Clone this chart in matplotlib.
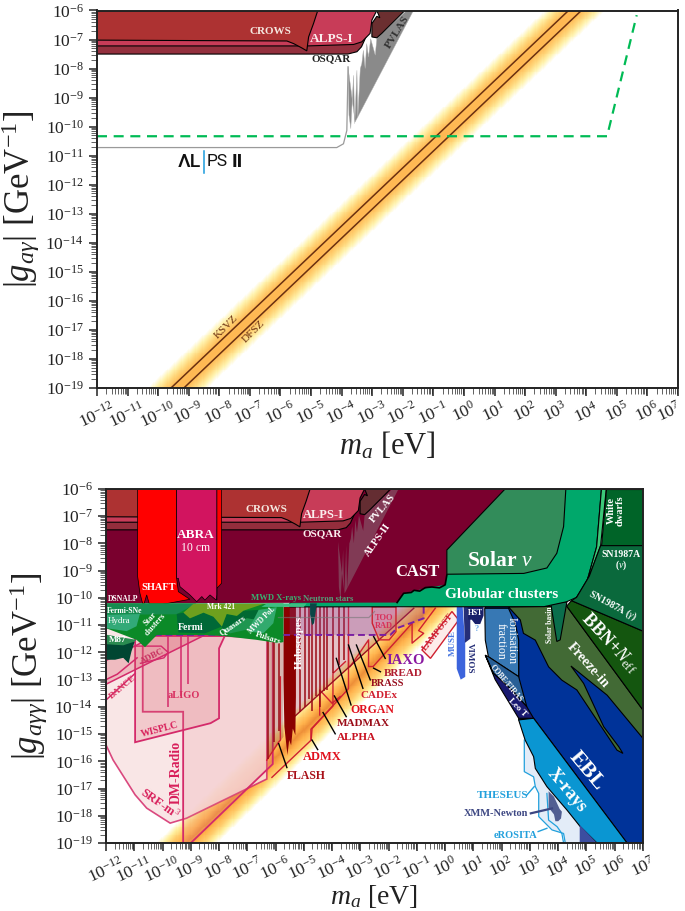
import matplotlib
matplotlib.use('Agg')
import matplotlib.pyplot as plt
from matplotlib.colors import LinearSegmentedColormap
from matplotlib.ticker import LogLocator, NullFormatter
from matplotlib.transforms import ScaledTranslation
import numpy as np

plt.rcParams['font.family'] = ['Liberation Serif', 'DejaVu Serif']
plt.rcParams['mathtext.fontset'] = 'custom'
plt.rcParams['mathtext.rm'] = 'Liberation Serif'
plt.rcParams['mathtext.it'] = 'Liberation Serif:italic'
plt.rcParams['mathtext.bf'] = 'Liberation Serif:bold'

W, H = 685, 911

# all values are log10(m_a / eV), log10(g / GeV^-1)
ksvz_line = [(-9.58, -19), (3.42, -6)]
dfsz_line = [(-9.16, -19), (3.84, -6)]

osqar = [(-12, -7.5), (-3.8, -7.5), (-3.5, -7.42), (-3.35, -7.25), (-3.2, -6.9), (-3.2, -6), (-12, -6)]
alps1 = [(-12, -7.22), (-5.13, -7.22), (-3.61, -7.17), (-3.34, -7.08), (-3.07, -6.79), (-3.01, -6.33), (-2.85, -6), (-12, -6)]
crows = [(-12, -7.02), (-5.79, -7.05), (-5.57, -7.14), (-5.3, -7.29), (-5.14, -7.39), (-5.08, -6.91), (-4.92, -6.45), (-4.78, -6), (-12, -6)]
pvlas = [(-3.01, -6.91), (-2.85, -6.94), (-2.69, -6.79), (-1.98, -6.05), (-1.95, -6), (-2.85, -6), (-2.75, -6.25), (-2.85, -6.2), (-3.01, -6.45)]
alps2_line = [(-12, -10.72), (-4.16, -10.72), (-3.94, -10.59), (-3.83, -10.13), (-3.79, -7.94)]
alps2_spikes = [(-3.79, -7.94), (-3.76, -9.6), (-3.7, -10.07), (-3.61, -8.23), (-3.57, -9.9), (-3.5, -8.06), (-3.47, -9.67),
                (-3.39, -8.0), (-3.34, -7.83), (-3.29, -7.37), (-3.23, -8.0), (-3.18, -7.14), (-3.12, -7.6), (-3.05, -6.97),
                (-2.9, -7.54), (-2.85, -6.97), (-2.69, -6.79), (-1.87, -6), (-1.65, -6), (-3.56, -9.84)]
alps2_proj = [(-12, -10.33), (4.68, -10.33), (5.65, -6.16)]

cast = [(-12, -10.2), (-1.7, -10.17), (-1.47, -9.83), (-0.47, -9.6), (0, -9.52), (0.06, -9.16), (0.06, -8.24), (2.12, -6), (-12, -6)]
cast_edge = [(-1.7, -10.17), (-1.47, -9.83), (-1.2, -9.8), (-1.1, -9.72), (-0.9, -9.75), (-0.7, -9.62), (-0.47, -9.6), (-0.2, -9.63), (0, -9.52), (0.06, -9.16)]
solar = [(0.06, -8.24), (2.12, -6), (4.27, -6), (4.19, -7.38), (3.95, -8.36), (3.6, -8.9), (2.78, -9.1), (0.06, -9.13)]
globular = [(-5.5, -10.33), (3.5, -10.32), (4.3, -10.14), (4.65, -9.98), (5.0, -9.46), (5.36, -8.12), (5.53, -6), (0, -6), (-5.5, -10.2)]
wd_strip = [(5.53, -6), (5.7, -6), (5.5, -8.08), (5.1, -9.2), (4.65, -9.98), (5.0, -9.46), (5.36, -8.12)]
white_dwarfs = [(5.7, -6), (7, -6), (7, -8.08), (5.5, -8.08)]
sn1987a = [(5.5, -8.08), (7, -8.08), (7, -11.22), (4.47, -10.1), (4.65, -9.98), (5.1, -9.2)]
bbn = [(4.47, -10.1), (7, -11.22), (7, -14.12), (4.3, -10.3)]
freeze_in = [(2.24, -10.33), (4.3, -10.3), (7, -14.12), (7, -15.16), (5.73, -13.57), (4.45, -12.5), (4.9, -13.14), (5.61, -14.73),
             (6.14, -15.46), (6.29, -15.71), (6.08, -15.59), (5.25, -14.3), (4.66, -13.38), (4.13, -13.02), (3.66, -12.53),
             (3.19, -11.55), (2.77, -11.3), (2.66, -10.81)]
solar_basin = [(3.74, -10.22), (4.31, -10.14), (4.07, -11.54), (3.95, -11.6)]
ebl = [(1.4, -10.33), (7, -10.33), (7, -19), (6.43, -19), (3.13, -14.42), (2.6, -14.48), (2.6, -12)]
xrays = [(2.6, -14.48), (3.13, -14.42), (6.43, -18.99), (5.37, -19), (4.78, -18.4), (4.31, -17.79), (3.6, -16.93), (3.19, -16.26), (3.13, -15.83), (2.83, -15.22)]
xray_dark = [(4.76, -18.34), (5.37, -19), (4.76, -19)]
theseus = [(2.8, -15.22), (2.8, -16.38), (3.13, -16.57), (3.19, -16.93), (3.31, -17.18), (3.31, -18.03), (3.78, -18.52), (4.19, -18.65), (4.25, -19)]
theseus_back = [(4.76, -19), (4.76, -18.34), (4.31, -17.79), (3.6, -16.93), (3.19, -16.26), (3.13, -15.83), (2.83, -15.22)]
erosita = [(3.6, -17.18), (3.66, -18.16), (3.96, -18.4), (4.13, -18.65), (4.19, -19)]
xmm = [(3.66, -17.1), (3.66, -17.7), (3.85, -17.95), (3.9, -18.2), (4.0, -18.2), (4.1, -18.1), (4.13, -17.85), (4.05, -17.75), (3.85, -17.3)]
ionisation = [(1.4, -10.38), (2.24, -10.38), (2.48, -10.93), (2.6, -11.54), (2.6, -12.89), (1.53, -12.16), (1.42, -11.55)]
cobe = [(1.42, -12.1), (1.53, -12.16), (2.6, -12.89), (2.89, -14.0), (2.36, -13.38), (1.71, -12.77)]
leo_t = [(1.42, -12.1), (1.71, -12.77), (2.36, -13.38), (2.89, -14.0), (3.13, -14.42), (2.6, -14.42), (1.77, -13.0)]
hst = [(0.79, -10.33), (1.36, -10.33), (1.36, -10.65), (1.24, -10.96), (1.06, -10.96), (0.94, -10.8), (0.82, -10.8)]
vimos = [(0.65, -10.33), (0.89, -10.33), (0.89, -11.5), (0.7, -11.65)]
muse = [(0.41, -10.33), (0.62, -10.33), (0.71, -11.7), (0.71, -12.9), (0.55, -13.0), (0.41, -12.6)]

base_green = [(-12, -10.2), (-5.72, -10.2), (-5.72, -11.62), (-5.9, -11.66), (-6.67, -11.54), (-7.85, -11.4), (-8.56, -11.36), (-10.2, -11.36),
              (-10.62, -11.81), (-10.92, -11.54), (-12, -11.11)]
fermi_sne = [(-12, -10.2), (-8.8, -10.2), (-9.5, -10.6), (-12, -10.62)]
hydra = [(-12, -10.62), (-10.8, -10.59), (-10.92, -11.04), (-11.27, -11.22), (-12, -11.11)]
mrk421 = [(-9.26, -10.54), (-8.91, -10.22), (-6.43, -10.22), (-7.14, -10.47), (-7.37, -10.66), (-7.73, -10.59), (-7.9, -11.05),
          (-8.2, -10.69), (-8.55, -10.54), (-9.03, -10.75)]
fermi = [(-9.5, -10.59), (-9.26, -10.54), (-9.03, -10.75), (-8.55, -10.54), (-8.2, -10.69), (-7.9, -11.05), (-8.5, -11.3), (-9.44, -11.27)]
quasars_dark = [(-7.9, -11.05), (-7.73, -10.59), (-7.37, -10.66), (-7.14, -10.47), (-6.6, -10.44), (-6.67, -10.8), (-7.02, -10.75), (-7.9, -11.17)]
quasars = [(-7.9, -11.17), (-7.02, -10.75), (-6.67, -10.8), (-6.78, -11.11), (-7.6, -11.3)]
mwd_pol = [(-6.96, -11.17), (-6.6, -10.44), (-5.96, -10.34), (-6.08, -10.93), (-6.43, -11.3), (-6.9, -11.24)]
m87_top = [(-12, -11.35), (-10.92, -11.54), (-11.3, -11.85), (-12, -11.8)]
m87 = [(-12, -11.7), (-11.39, -11.74), (-10.98, -11.6), (-11.1, -11.97), (-11.2, -12.4), (-11.39, -12.2), (-11.68, -12.27), (-12, -12.27)]
mwd_xrays = [(-6.5, -10.33), (-6.3, -10.2), (-4.9, -10.2), (-5.0, -10.33)]
neutron = [(-4.78, -10.2), (-4.54, -10.2), (-4.64, -10.93), (-4.71, -11.0), (-4.78, -10.6)]
neutron_line = [(-5.9, -10.72), (-2.7, -10.72), (-2.5, -10.5)]

shaft = [(-10.88, -6), (-10.88, -9.22), (-10.8, -9.83), (-10.68, -10.3), (-10.56, -9.89), (-10.44, -10.32), (-9.03, -10.05), (-9.44, -9.77), (-9.5, -9.28), (-9.5, -6)]
shaft_right = [(-8.08, -6), (-7.91, -6), (-7.91, -9.46), (-8.08, -9.65), (-8.08, -10.08)]
abra = [(-9.5, -6), (-8.08, -6), (-8.08, -9.89), (-8.1, -10.08), (-8.32, -9.89), (-8.5, -10.08), (-8.61, -9.95), (-8.79, -10.14), (-9.03, -9.89), (-9.38, -9.59), (-9.44, -9.28), (-9.5, -9.28)]

srf = [(-12, -15.4), (-11.75, -15.95), (-10.97, -17.23), (-10.56, -17.72), (-9.73, -18.27), (-9.15, -18.09), (-6.31, -16.65), (-6.31, -11.5), (-12, -11.1)]
dm_radio = [(-9.27, -19), (-9.27, -14.18), (-10.7, -14.18), (-10.7, -11.4), (-6.1, -11.4), (-6.1, -16.1), (-9, -19)]
wisplc = [(-10.97, -11.4), (-10.97, -15.3), (-8.3, -14.6), (-8.0, -14.42), (-8.0, -11.85), (-7.8, -11.4)]
adbc = [(-12, -13.17), (-8.5, -11.36), (-10.2, -11.36), (-12, -12.3)]
adbc_box = [(-11, -11.77), (-10.05, -11.77), (-9.8, -12.0), (-9.95, -12.2), (-10.78, -12.4)]
dance = [(-12, -13.75), (-10.97, -12.77)]
dance2 = [(-12, -13.0), (-11.6, -12.8), (-10.9, -12.2)]
aligo_m = [-9.82, -9.36, -9.09]
aligo_low = [-13.99, -13.6, -13.16]

iaxo = [(-5.5, -10.33), (-0.76, -10.33), (-0.76, -10.75), (-1.7, -11.11), (-1.94, -11.36), (-5.5, -11.36)]
iaxo_dash = [(-10.27, -11.36), (-1.94, -11.36), (-1.7, -11.11), (-0.76, -10.75), (-0.76, -10.33)]
too_rad = [(-2.58, -10.33), (-2.58, -10.93), (-2.34, -11.54), (-1.98, -11.54), (-1.74, -11.24), (-1.74, -10.33)]
lampost = [(-0.82, -11.91), (0.24, -10.5), (0.48, -10.81), (-0.52, -12.22)]
breadline = [(-2.55, -12.52), (-1.17, -10.93), (-1.17, -11.66), (-0.76, -11.3), (-0.94, -11.2), (-0.35, -10.38)]
cadex_box = [(-3.36, -12.52), (-2.71, -11.54), (-2.71, -12.52), (-2.55, -12.52)]
organ_box = [(-3.42, -12.52), (-3.42, -11.79)]
admx = [(-6.13, -16.59), (-4.74, -15.22), (-4.71, -14.8), (-3.42, -13.33), (-3.42, -10.33)]
alpha_box = [(-4.75, -15.21), (-4.75, -14.82), (-3.97, -13.97), (-3.97, -12.77), (-3.53, -12.34)]
madmax_box = [(-4.44, -14.3), (-4.44, -13.38), (-4.0, -13.87), (-3.71, -13.62)]
flash_box = [(-6.31, -15.96), (-5.89, -15.29), (-5.83, -15.22), (-5.83, -12.9)]
long_diag = [(-5.3, -14.33), (-1.11, -10.38)]
halo_proj = [(-5.3, -10.33), (-1.11, -10.38), (-5.3, -14.33)]
flash_fill = [(-6.31, -11.6), (-5.72, -11.6), (-5.72, -15.1), (-6.31, -15.96)]
halo_body = [(-5.72, -10.33), (-5.72, -13.0), (-5.69, -14.73), (-5.58, -15.77), (-5.52, -15.22), (-5.45, -15.41), (-5.39, -14.8), (-5.3, -15.04), (-5.28, -13.63), (-5.28, -10.33)]
halo_m = [-6.28, -6.06, -5.88, -5.12, -4.95, -4.82, -4.71, -4.58, -4.44, -4.3, -4.18, -3.97, -3.77, -3.59]
halo_low = [-15.9, -15.3, -14.9, -14.2, -13.99, -13.7, -14.17, -13.6, -13.99, -13.4, -13.38, -12.77, -12.46, -12.28]

leaders = {
    'IAXO': [(-2.53, -11.42), (-2.12, -12.22)],
    'BREAD': [(-2.53, -12.58), (-2.29, -12.71)],
    'BRASS': [(-3.14, -11.73), (-2.65, -13.01)],
    'CADEx': [(-3.42, -11.73), (-2.91, -13.32)],
    'ORGAN': [(-3.85, -12.22), (-3.33, -13.93)],
    'MADMAX': [(-3.92, -13.6), (-3.5, -14.36)],
    'ALPHA': [(-4.32, -14.21), (-3.89, -14.99)],
    'FLASH': [(-5.89, -15.35), (-5.6, -16.23)],
    'ADMX': [(-4.71, -15.22), (-4.51, -15.57)],
}
theseus_lead = [(2.89, -17.24), (3.15, -16.93)]
xmm_lead = [(3.03, -17.91), (3.78, -17.73)]
erosita_lead = [(3.29, -18.58), (3.6, -18.46)]


def xy(pts):
    a = np.array(pts, dtype=float)
    return 10**a[:, 0], 10**a[:, 1]


def poly(ax, pts, fc, ec='k', lw=0.8, **kw):
    x, y = xy(pts)
    ax.fill(x, y, facecolor=fc, edgecolor=ec, linewidth=lw, **kw)


def line(ax, pts, c='k', lw=0.8, **kw):
    x, y = xy(pts)
    ax.plot(x, y, color=c, lw=lw, **kw)


def band(ax, centre, halfw, colours):
    lx = np.linspace(-12, 7, 500)
    ly = np.linspace(-19, -6, 400)
    X, Y = np.meshgrid(lx, ly)
    d = np.abs(Y - X - centre) / halfw
    cm = LinearSegmentedColormap.from_list('band', colours)
    ax.pcolormesh(10**lx, 10**ly, np.clip(d, 0, 1), cmap=cm, vmin=0, vmax=1, shading='auto', rasterized=True, zorder=0.5)


def setup(ax, ylabel, lab_y, ylab_x, xsize=22, nudge=0):
    ax.set_xscale('log')
    ax.set_yscale('log')
    ax.set_xlim(1e-12, 1e7)
    ax.set_ylim(1e-19, 1e-6)
    ax.xaxis.set_major_locator(LogLocator(base=10, numticks=30))
    ax.yaxis.set_major_locator(LogLocator(base=10, numticks=30))
    for a in (ax.xaxis, ax.yaxis):
        a.set_minor_locator(LogLocator(base=10, subs=np.arange(2, 10), numticks=200))
        a.set_minor_formatter(NullFormatter())
    ax.tick_params(which='major', length=6, width=1.1, labelsize=12.5, color='#222222', labelcolor='#222222')
    ax.tick_params(which='minor', length=4, width=0.5, color='#222222')
    ax.tick_params(axis='x', which='major', pad=2)
    fig.canvas.draw()
    xlabels = ax.get_xticklabels()
    for t in xlabels:
        t.set_rotation(25)
    # last label sits at the figure edge, nudge it in
    if nudge:
        shift = ScaledTranslation(-nudge/100, 0, fig.dpi_scale_trans)
        for t, v in zip(xlabels, ax.get_xticks()):
            if abs(np.log10(v) - 7) < 0.01:
                t.set_transform(t.get_transform() + shift)
    for s in ax.spines.values():
        s.set_linewidth(1.4)
        s.set_color('#222222')
        s.set_zorder(50)
    ax.set_xlabel(r'$m_a$ [eV]', fontsize=xsize, color='#222222')
    ax.xaxis.set_label_coords(0.5, lab_y)
    ax.set_ylabel(ylabel, fontsize=25, color='#222222')
    ax.yaxis.set_label_coords(ylab_x, 0.5)


fig = plt.figure(figsize=(W/100, H/100), dpi=100)


def lab(px, py, s, size=8, color='w', rot=0, weight='normal', **kw):
    fig.text(px/W, 1 - py/H, s, fontsize=size, color=color, rotation=rot, weight=weight,
             ha='center', va='center', zorder=60, linespacing=0.95, **kw)


# ---- top panel
ax1 = fig.add_axes([97/W, 1 - 388/H, 581/W, 377.5/H])
band(ax1, -9.63, 1.0, [(1, 0.72, 0.32, 1), (1, 0.74, 0.35, 1), (1, 0.84, 0.48, 1), (1, 0.95, 0.68, 1), (1, 1, 1, 1)])
line(ax1, ksvz_line, c='#6b3010', lw=1.1, zorder=2)
line(ax1, dfsz_line, c='#6b3010', lw=1.1, zorder=2)
poly(ax1, alps2_spikes, '#8a8a8a', ec='#b0b0b0', lw=0.3, zorder=2)
line(ax1, alps2_line, c='#9a9a9a', lw=0.9, zorder=2)
poly(ax1, pvlas, '#6b2f30', zorder=3)
poly(ax1, osqar, '#94303e', zorder=3)
poly(ax1, alps1, '#c83c58', zorder=4)
poly(ax1, crows, '#ad3232', zorder=5)
line(ax1, alps2_proj, c='#00bb55', lw=1.6, ls=(0, (4.5, 3)), zorder=6)
setup(ax1, r'$|g_{a\gamma}|$ [GeV$^{-1}$]', -0.11, -0.095, nudge=9)

lab(270, 32, 'CROWS', 8, '#f5e8e0', weight='bold')
lab(332, 39, 'ALPS-I', 9.5, '#fbeeee', weight='bold')
lab(331, 59, 'OSQAR', 8, '#222222', weight='bold')
lab(397, 32, 'PVLAS', 8, '#333333', rot=58, weight='bold')
lab(226, 327, 'KSVZ', 8, '#6b3010', rot=45)
lab(254, 332, 'DFSZ', 8, '#6b3010', rot=45)
fig.text(178/W, 1 - 162/H, '\u039bL', fontsize=14, family='Roboto', weight='medium', color='#111111', ha='left', va='center')
fig.text(207/W, 1 - 162/H, 'PS', fontsize=12.5, family='Roboto', color='#111111', ha='left', va='center')
fig.text(232/W, 1 - 162/H, 'II', fontsize=14, family='Roboto', weight='bold', color='#111111', ha='left', va='center')
fig.add_artist(plt.Line2D([204/W, 204/W], [1 - 151/H, 1 - 173/H], color='#1a9bdc', lw=1.1))

# ---- bottom panel
ax2 = fig.add_axes([106/W, 1 - 843/H, 537/W, 354/H])
band(ax2, -9.85, 1.1, [(0.93, 0.56, 0.22, 1), (1, 0.70, 0.30, 1), (1, 0.80, 0.42, 1), (1, 0.94, 0.62, 1), (1, 1, 1, 1)])
ck = '#d42a6a'
rd = '#cf2030'
poly(ax2, srf, '#f9e2e2', ec=ck, lw=1.2, alpha=0.85, zorder=1)
poly(ax2, dm_radio, (0.9, 0.55, 0.6, 0.2), ec=ck, lw=1.3, zorder=1.2)
poly(ax2, wisplc, (0.88, 0.5, 0.55, 0.28), ec=ck, lw=1.3, zorder=1.3)
poly(ax2, adbc, (0.85, 0.35, 0.42, 0.3), ec=ck, lw=1.1, zorder=1.4)
line(ax2, adbc_box, c=ck, lw=1, zorder=1.5)
line(ax2, dance, c=ck, lw=1.1, zorder=1.5)
line(ax2, dance2, c=ck, lw=1.1, zorder=1.5)
ax2.vlines(10.0**np.array(aligo_m), 10.0**np.array(aligo_low), 1e-11, color=ck, lw=1.1, zorder=1.6)
poly(ax2, halo_proj, (0.62, 0.15, 0.2, 0.28), ec='none', lw=0, zorder=2)
poly(ax2, flash_fill, (0.6, 0.25, 0.2, 0.38), ec='none', lw=0, zorder=2)
poly(ax2, lampost, '#fdecea', ec=rd, lw=1, zorder=2)
for pts in (admx, alpha_box, madmax_box, flash_box, breadline, cadex_box, organ_box):
    line(ax2, pts, c=rd, lw=1, zorder=2.5)
line(ax2, long_diag, c='#9a1020', lw=1, zorder=2.5)
ax2.vlines(10.0**np.array(halo_m), 10.0**np.array(halo_low), 10**-10.33, color='#9b0a14', lw=1.1, zorder=3)
poly(ax2, halo_body, '#8b0000', ec='none', lw=0, zorder=3)
poly(ax2, iaxo, (0.55, 0.25, 0.6, 0.28), ec='none', lw=0, zorder=3.2)
poly(ax2, too_rad, (0.9, 0.35, 0.45, 0.18), ec=rd, lw=1, zorder=3.3)
line(ax2, iaxo_dash, c='#7a1fa2', lw=1.4, ls=(0, (3.5, 2)), zorder=3.4)
for pts in leaders.values():
    line(ax2, pts, c='k', lw=1, zorder=8)

poly(ax2, ebl, '#003399', zorder=4)
poly(ax2, theseus + theseus_back, '#e3ecf8', ec='none', lw=0, zorder=4)
line(ax2, theseus, c='#22a0dc', lw=0.9, zorder=4.2)
line(ax2, erosita, c='#22a0dc', lw=0.9, zorder=4.2)
poly(ax2, xmm, (0.22, 0.27, 0.5, 0.85), ec='none', lw=0, zorder=4.3)
poly(ax2, xrays, '#0a96d2', zorder=4.5)
poly(ax2, xray_dark, '#3c4ea0', ec='none', lw=0, zorder=4.5)
poly(ax2, freeze_in, '#426a35', zorder=5)
poly(ax2, solar_basin, '#0a6e4c', zorder=5.5)
poly(ax2, bbn, '#14560f', zorder=5.2)
poly(ax2, ionisation, '#3778b4', zorder=5)
poly(ax2, cobe, '#285f96', zorder=5.2)
poly(ax2, leo_t, '#191970', zorder=5.2)
poly(ax2, muse, '#3c64dc', ec='none', lw=0, zorder=5)
poly(ax2, vimos, '#262f78', ec='none', lw=0, zorder=5.2)
poly(ax2, hst, '#19206a', ec='none', lw=0, zorder=5.3)
poly(ax2, globular, '#00a86b', zorder=6)
poly(ax2, wd_strip, '#3cc878', zorder=6.1)
poly(ax2, white_dwarfs, '#006428', zorder=6.1)
poly(ax2, sn1987a, '#0a693c', zorder=6.1)
poly(ax2, cast, '#7a002e', ec='none', lw=0, zorder=6.2)
line(ax2, cast_edge, c='k', lw=1.2, zorder=6.3)
poly(ax2, solar, '#328c5a', zorder=6.3)
poly(ax2, alps2_spikes, (0.55, 0.55, 0.55, 0.42), ec='none', lw=0, zorder=6.4)
poly(ax2, pvlas, '#642d32', zorder=6.5)
poly(ax2, osqar, '#942d3c', zorder=6.5)
poly(ax2, alps1, '#c83c58', zorder=6.6)
poly(ax2, crows, '#ad3232', zorder=6.7)
poly(ax2, shaft, '#ff0000', ec='k', lw=0.5, zorder=7)
poly(ax2, shaft_right, '#ff0000', ec='k', lw=0.5, zorder=7)
poly(ax2, abra, '#d2145f', ec='k', lw=0.5, zorder=7.1)
poly(ax2, base_green, '#0b8a28', ec='none', lw=0, zorder=7.2)
poly(ax2, fermi_sne, '#168c50', ec='none', lw=0, zorder=7.3)
poly(ax2, hydra, '#32aa78', ec='none', lw=0, zorder=7.3)
poly(ax2, m87_top, '#2a8a50', ec='none', lw=0, zorder=7.3)
poly(ax2, m87, '#004632', ec='none', lw=0, zorder=7.4)
poly(ax2, fermi, '#006937', ec='none', lw=0, zorder=7.4)
poly(ax2, quasars_dark, '#006932', ec='none', lw=0, zorder=7.4)
poly(ax2, mrk421, '#6ea01e', ec='none', lw=0, zorder=7.5)
poly(ax2, quasars, '#1e9650', ec='none', lw=0, zorder=7.5)
poly(ax2, mwd_pol, '#32aa6e', ec='none', lw=0, zorder=7.5)
poly(ax2, mwd_xrays, '#3cbe82', ec='none', lw=0, zorder=7.5)
poly(ax2, neutron, '#0a4646', ec='none', lw=0, zorder=7.5)
line(ax2, neutron_line, c='#777777', lw=0.9, alpha=0.6, zorder=7.6)
line(ax2, theseus_lead, c='#22a0dc', lw=1, zorder=8)
line(ax2, xmm_lead, c='#3c4682', lw=1.6, zorder=8)
line(ax2, erosita_lead, c='#22a0dc', lw=1, zorder=8)
setup(ax2, r'$|g_{a\gamma\gamma}|$ [GeV$^{-1}$]', -0.112, -0.105, xsize=20)

bw = dict(weight='bold')
lab(266, 509, 'CROWS', 8, '#f5e8e0', **bw)
lab(323, 515, 'ALPS-I', 9, '#fbeeee', **bw)
lab(322, 534, 'OSQAR', 8, '#fbeeee', **bw)
lab(196, 535, 'ABRA', 9.5, **bw)
lab(196, 548, '10 cm', 8.5)
lab(159, 588, 'SHAFT', 7.5, **bw)
lab(123, 599, 'DSNALP', 5.5, **bw)
lab(276, 598, 'MWD X-rays', 6.2, '#38b070', **bw)
lab(328, 599, 'Neutron stars', 6.2, '#52a078', **bw)
lab(125, 611, 'Fermi-SNe', 5.5, **bw)
lab(221, 607, 'Mrk 421', 5.5, **bw)
lab(119, 621, 'Hydra', 6.5)
lab(153, 622, 'Star\nclusters', 6, rot=48, **bw)
lab(191, 627, 'Fermi', 7, **bw)
lab(233, 625, 'Quasars', 6, rot=35, **bw)
lab(262, 620, 'MWD Pol.', 5.5, rot=45, **bw)
lab(268, 638, 'Pulsars', 6, rot=-18, **bw)
lab(118, 640, 'M87', 6.5, **bw)
lab(299, 642, 'Haloscopes', 8, rot=90, **bw)
lab(417, 572, 'CAST', 12, **bw)
lab(383, 508, 'PVLAS', 7.5, rot=50, **bw)
lab(378, 540, 'ALPS-II', 7.5, rot=55, **bw)
lab(500, 561, r'Solar $\nu$', 15.5, **bw)
lab(502, 595, 'Globular clusters', 11, **bw)
lab(616, 511, 'White\ndwarfs', 7.5, rot=90, **bw)
lab(621, 561, 'SN1987A\n' + r'($\nu$)', 7, **bw)
lab(613, 606, r'SN1987A ($\gamma$)', 7, rot=-28, **bw)
lab(610, 643, r'BBN+$N_{\rm eff}$', 13, rot=-47, **bw)
lab(588, 665, 'Freeze-in', 10, rot=-48, **bw)
lab(550, 625, 'Solar basin', 5.5, rot=90, **bw)
lab(506, 641, 'Ionisation\nfraction', 8.5, rot=270)
lab(506, 683, 'COBE/FIRAS', 5.5, rot=-50, **bw)
lab(517, 708, 'Leo T', 6.5, rot=-45, **bw)
lab(475, 613, 'HST', 5.5, **bw)
lab(453, 643, 'MUSE', 6.5, '#4a78e0', rot=90, **bw)
lab(470, 658, 'VIMOS', 6.5, '#262f78', rot=270, **bw)
lab(477, 629, '?', 6, '#6aa8e8', **bw)
lab(384, 622, 'TOO\nRAD', 6, '#d8305a', **bw)
lab(438, 632, 'LAMPOST', 6.5, rd, rot=52, **bw)
lab(406, 660, 'IAXO', 10.5, '#8a18a0', **bw)
lab(403, 673, 'BREAD', 8, '#b01c30', **bw)
lab(388, 684, 'BRASS', 7.5, '#981020', **bw)
lab(379, 696, 'CADEx', 8, '#d02030', **bw)
lab(372, 710, 'ORGAN', 8.5, '#e0101c', **bw)
lab(363, 724, 'MADMAX', 8, '#9a0c18', **bw)
lab(356, 738, 'ALPHA', 8, '#c81020', **bw)
lab(322, 757, 'ADMX', 9, '#e0101c', **bw)
lab(306, 776, 'FLASH', 8.5, '#a81018', **bw)
lab(184, 696, 'aLIGO', 7.5, '#d83060', **bw)
lab(123, 687, 'DANCE', 6.5, '#d83060', rot=40, **bw)
lab(152, 656, 'ADBC', 6.5, '#c83060', rot=27, **bw)
lab(160, 730, 'WISPLC', 7, '#d81e5a', rot=15, **bw)
lab(176, 772, 'DM-Radio', 10, '#d81e5a', rot=90, **bw)
lab(160, 803, r'SRF-m$^3$', 9, '#d81e5a', rot=-35, **bw)
lab(503, 796, 'THESEUS', 8, '#22a0dc', **bw)
lab(496, 814, 'XMM-Newton', 7.5, '#3c4682', **bw)
lab(516, 835, 'eROSITA', 7.5, '#22a0dc', **bw)
lab(567, 790, 'X-rays', 13, rot=-50, **bw)
lab(587, 771, 'EBL', 16, rot=-50, **bw)

fig.savefig('out.png', dpi=100)
